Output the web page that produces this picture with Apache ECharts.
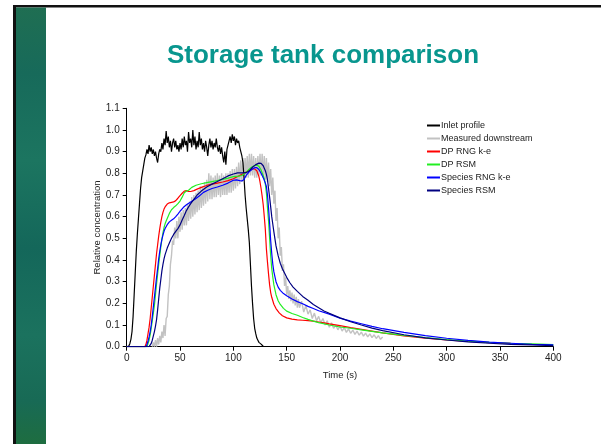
<!DOCTYPE html>
<html>
<head>
<meta charset="utf-8">
<script src="https://cdn.jsdelivr.net/npm/echarts@6/dist/echarts.min.js"></script>
<style>
  html, body { margin: 0; padding: 0; background: #fff; }
  #chart { width: 601px; height: 444px; }
</style>
</head>
<body>
<div id="chart"></div>
<script>
// values: [time (s), relative concentration]
var seriesNames = ['Inlet profile', 'Measured downstream', 'DP RNG k-e', 'DP RSM', 'Species RNG k-e', 'Species RSM']
var xTicks = [0, 400, 50]
var yTicks = [0, 1.1, 0.1]

var inletProfile = [
  [0, 0], [2, 0.003], [3, 0.015], [4, 0.035], [5, 0.07], [6, 0.14], [7, 0.24], [8, 0.34], [9, 0.44], [10, 0.52],
  [11, 0.59], [12, 0.66], [13, 0.73], [14, 0.78], [15, 0.81], [16, 0.84], [17, 0.87], [18, 0.885], [19, 0.91], [20, 0.89],
  [21, 0.93], [22, 0.9], [23, 0.92], [24, 0.89], [25, 0.91], [26, 0.88], [27, 0.9], [28, 0.87], [29, 0.85], [30, 0.89],
  [31, 0.91], [32, 0.9], [33, 0.94], [34, 0.91], [35, 0.96], [36, 0.93], [37, 0.995], [38, 0.94], [39, 0.97], [40, 0.92],
  [41, 0.95], [42, 0.9], [43, 0.94], [44, 0.96], [45, 0.92], [46, 0.95], [47, 0.91], [48, 0.93], [49, 0.9], [50, 0.94],
  [51, 0.91], [52, 0.96], [53, 0.92], [54, 0.97], [55, 0.93], [56, 0.95], [57, 0.9], [58, 0.99], [59, 0.94], [60, 0.96],
  [61, 0.92], [62, 1.0], [63, 0.93], [64, 0.97], [65, 0.91], [66, 0.95], [67, 0.92], [68, 0.99], [69, 0.93], [70, 0.96],
  [71, 0.91], [72, 0.94], [73, 0.9], [74, 0.95], [75, 0.92], [76, 0.88], [77, 0.93], [78, 0.96], [79, 0.92], [80, 0.95],
  [81, 0.91], [82, 0.94], [83, 0.92], [84, 0.96], [85, 0.92], [86, 0.9], [87, 0.93], [88, 0.89], [89, 0.92], [90, 0.88],
  [91, 0.85], [92, 0.9], [93, 0.84], [94, 0.91], [95, 0.93], [96, 0.95], [97, 0.97], [98, 0.94], [99, 0.98], [100, 0.95],
  [101, 0.97], [102, 0.93], [103, 0.96], [104, 0.94], [105, 0.95], [106, 0.92], [107, 0.92], [108, 0.88], [109, 0.85], [110, 0.78],
  [111, 0.7], [112, 0.64], [113, 0.59], [114, 0.54], [115, 0.48], [116, 0.38], [117, 0.28], [118, 0.2], [119, 0.13], [120, 0.085],
  [121, 0.06], [122, 0.04], [123, 0.03], [124, 0.02], [125, 0.02], [126, 0.012], [127, 0.006], [128, 0.002], [129, 0]
]

var measuredDownstream = [
  [24, 0.0], [25, 0.02], [26, 0.0], [27, 0.03], [28, 0.0], [29, 0.04], [30, 0.01], [31, 0.05], [32, 0.02], [33, 0.07],
  [34, 0.04], [35, 0.1], [36, 0.05], [37, 0.13], [38, 0.14], [39, 0.24], [40, 0.28], [41, 0.38], [42, 0.42], [43, 0.49],
  [44, 0.47], [45, 0.55], [46, 0.5], [47, 0.58], [48, 0.5], [49, 0.6], [50, 0.53], [51, 0.62], [52, 0.54], [53, 0.63],
  [54, 0.56], [55, 0.64], [56, 0.56], [57, 0.66], [58, 0.58], [59, 0.67], [60, 0.59], [61, 0.69], [62, 0.6], [63, 0.7],
  [64, 0.61], [65, 0.71], [66, 0.62], [67, 0.72], [68, 0.63], [69, 0.74], [70, 0.64], [71, 0.74], [72, 0.65], [73, 0.76],
  [74, 0.66], [75, 0.77], [76, 0.67], [77, 0.8], [78, 0.68], [79, 0.79], [80, 0.68], [81, 0.78], [82, 0.69], [83, 0.79],
  [84, 0.69], [85, 0.8], [86, 0.7], [87, 0.79], [88, 0.69], [89, 0.8], [90, 0.7], [91, 0.79], [92, 0.7], [93, 0.8],
  [94, 0.7], [95, 0.8], [96, 0.71], [97, 0.81], [98, 0.71], [99, 0.82], [100, 0.72], [101, 0.82], [102, 0.73], [103, 0.83],
  [104, 0.74], [105, 0.85], [106, 0.75], [107, 0.86], [108, 0.76], [109, 0.87], [110, 0.77], [111, 0.87], [112, 0.78], [113, 0.88],
  [114, 0.78], [115, 0.89], [116, 0.79], [117, 0.89], [118, 0.79], [119, 0.88], [120, 0.78], [121, 0.87], [122, 0.78], [123, 0.88],
  [124, 0.79], [125, 0.89], [126, 0.79], [127, 0.89], [128, 0.78], [129, 0.88], [130, 0.77], [131, 0.87], [132, 0.76], [133, 0.85],
  [134, 0.74], [135, 0.82], [136, 0.7], [137, 0.78], [138, 0.66], [139, 0.72], [140, 0.58], [141, 0.64], [142, 0.5], [143, 0.55],
  [144, 0.42], [145, 0.46], [146, 0.35], [147, 0.38], [148, 0.28], [149, 0.32], [150, 0.24], [151, 0.28], [152, 0.22], [153, 0.26],
  [154, 0.21], [155, 0.25], [156, 0.2], [157, 0.24], [158, 0.19], [159, 0.23], [160, 0.18], [161, 0.22], [162, 0.18], [164, 0.21],
  [166, 0.16], [168, 0.19], [170, 0.15], [172, 0.17], [174, 0.13], [176, 0.155], [178, 0.12], [180, 0.14], [182, 0.11], [184, 0.13],
  [186, 0.1], [188, 0.12], [190, 0.09], [192, 0.11], [194, 0.085], [196, 0.1], [198, 0.078], [200, 0.095], [202, 0.072], [204, 0.088],
  [206, 0.066], [208, 0.082], [210, 0.062], [212, 0.077], [214, 0.057], [216, 0.072], [218, 0.053], [220, 0.067], [222, 0.049], [224, 0.063],
  [226, 0.045], [228, 0.059], [230, 0.042], [232, 0.055], [234, 0.038], [236, 0.051], [238, 0.034], [240, 0.045]
]

var dpRngKe = [
  [0, 0], [17, 0], [18, 0.01], [19, 0.03], [20, 0.06], [21, 0.09], [22, 0.13], [23, 0.18], [24, 0.23], [25, 0.28],
  [26, 0.33], [27, 0.38], [28, 0.43], [29, 0.47], [30, 0.51], [31, 0.545], [32, 0.575], [33, 0.6], [34, 0.62], [35, 0.635],
  [36, 0.645], [38, 0.658], [40, 0.664], [42, 0.666], [44, 0.668], [46, 0.674], [48, 0.685], [50, 0.697], [52, 0.708], [54, 0.718],
  [56, 0.72], [58, 0.716], [60, 0.716], [63, 0.72], [66, 0.727], [70, 0.735], [75, 0.744], [80, 0.75], [85, 0.755], [90, 0.76],
  [95, 0.766], [100, 0.775], [104, 0.785], [108, 0.795], [112, 0.806], [115, 0.814], [118, 0.82], [120, 0.82], [122, 0.812], [124, 0.785],
  [125, 0.76], [126, 0.73], [127, 0.695], [128, 0.655], [129, 0.6], [130, 0.54], [131, 0.45], [132, 0.39], [133, 0.335], [134, 0.285],
  [135, 0.25], [136, 0.228], [138, 0.196], [140, 0.176], [143, 0.156], [146, 0.143], [150, 0.133], [155, 0.127], [160, 0.124], [165, 0.122],
  [170, 0.12], [175, 0.118], [180, 0.114], [185, 0.11], [190, 0.105], [200, 0.097], [210, 0.088], [220, 0.08], [230, 0.072], [240, 0.064],
  [260, 0.05], [280, 0.04], [300, 0.031], [320, 0.024], [340, 0.019], [360, 0.015]
]

var dpRsm = [
  [0, 0], [19, 0], [20, 0.015], [21, 0.03], [22, 0.055], [23, 0.085], [24, 0.12], [25, 0.155], [26, 0.19], [27, 0.24],
  [28, 0.29], [29, 0.335], [30, 0.38], [31, 0.42], [32, 0.46], [33, 0.495], [34, 0.525], [35, 0.55], [36, 0.567], [37, 0.58],
  [38, 0.592], [40, 0.615], [42, 0.632], [44, 0.642], [46, 0.65], [48, 0.66], [50, 0.672], [52, 0.69], [54, 0.71], [56, 0.718],
  [58, 0.722], [61, 0.735], [65, 0.745], [70, 0.752], [75, 0.757], [80, 0.762], [85, 0.767], [90, 0.772], [95, 0.778], [100, 0.785],
  [105, 0.787], [108, 0.79], [111, 0.8], [114, 0.815], [117, 0.828], [120, 0.836], [122, 0.838], [124, 0.832], [126, 0.815], [128, 0.79],
  [129, 0.775], [130, 0.75], [131, 0.71], [132, 0.64], [133, 0.58], [134, 0.5], [135, 0.42], [136, 0.36], [137, 0.32], [138, 0.285],
  [140, 0.24], [142, 0.212], [144, 0.195], [147, 0.177], [150, 0.164], [155, 0.153], [160, 0.145], [165, 0.135], [170, 0.126], [175, 0.118],
  [180, 0.111], [190, 0.1], [200, 0.091], [210, 0.085], [220, 0.078], [240, 0.064], [260, 0.052], [280, 0.042], [300, 0.033], [320, 0.026],
  [340, 0.02], [360, 0.016], [380, 0.013], [400, 0.01]
]

var speciesRngKe = [
  [0, 0], [18, 0], [19, 0.01], [20, 0.025], [21, 0.045], [22, 0.07], [23, 0.1], [24, 0.14], [25, 0.185], [26, 0.23],
  [27, 0.275], [28, 0.32], [29, 0.36], [30, 0.405], [31, 0.44], [32, 0.47], [33, 0.495], [34, 0.515], [35, 0.532], [36, 0.545],
  [38, 0.563], [40, 0.576], [42, 0.583], [44, 0.59], [46, 0.6], [48, 0.612], [50, 0.625], [53, 0.642], [56, 0.655], [60, 0.668],
  [64, 0.68], [68, 0.695], [72, 0.712], [76, 0.722], [80, 0.73], [85, 0.737], [90, 0.745], [95, 0.755], [100, 0.768], [103, 0.77],
  [106, 0.766], [108, 0.765], [110, 0.772], [112, 0.79], [115, 0.808], [118, 0.82], [120, 0.826], [122, 0.826], [124, 0.818], [126, 0.8],
  [128, 0.78], [130, 0.755], [131, 0.74], [132, 0.7], [133, 0.64], [134, 0.57], [135, 0.49], [136, 0.43], [137, 0.38], [138, 0.345],
  [140, 0.3], [142, 0.275], [144, 0.26], [147, 0.245], [150, 0.235], [155, 0.22], [160, 0.208], [165, 0.198], [170, 0.186], [175, 0.176],
  [180, 0.166], [190, 0.15], [200, 0.132], [210, 0.118], [220, 0.106], [230, 0.094], [240, 0.083], [260, 0.066], [280, 0.051], [300, 0.039],
  [320, 0.029], [340, 0.021], [360, 0.016], [380, 0.011], [400, 0.008]
]

var speciesRsm = [
  [0, 0], [21, 0], [22, 0.005], [23, 0.015], [24, 0.03], [25, 0.05], [26, 0.07], [27, 0.095], [28, 0.125], [29, 0.17],
  [30, 0.22], [31, 0.27], [32, 0.31], [33, 0.35], [34, 0.38], [35, 0.405], [36, 0.425], [38, 0.455], [40, 0.478], [42, 0.5],
  [44, 0.518], [46, 0.532], [48, 0.545], [50, 0.562], [52, 0.585], [54, 0.605], [56, 0.628], [58, 0.645], [60, 0.66], [63, 0.68],
  [66, 0.7], [70, 0.718], [75, 0.737], [80, 0.75], [85, 0.762], [90, 0.775], [95, 0.788], [100, 0.797], [104, 0.802], [108, 0.802],
  [112, 0.803], [115, 0.812], [118, 0.828], [121, 0.84], [124, 0.847], [126, 0.846], [128, 0.835], [130, 0.812], [131, 0.795], [132, 0.77],
  [133, 0.73], [134, 0.69], [135, 0.645], [136, 0.6], [137, 0.565], [138, 0.53], [140, 0.465], [142, 0.42], [144, 0.385], [146, 0.36],
  [148, 0.34], [150, 0.32], [153, 0.295], [156, 0.275], [160, 0.255], [165, 0.232], [170, 0.214], [175, 0.195], [180, 0.18], [185, 0.165],
  [190, 0.154], [200, 0.133], [210, 0.115], [220, 0.1], [230, 0.086], [240, 0.074], [260, 0.055], [280, 0.041], [300, 0.031], [320, 0.022],
  [340, 0.016], [360, 0.011], [380, 0.008], [400, 0.005]
]

var chart = echarts.init(document.getElementById('chart'), null, { renderer: 'canvas' })
var font = "'Liberation Sans', Arial, sans-serif"
var colors = ['#000000', '#c2c2c2', '#ff0000', '#22ee22', '#0000ff', '#000080']
var allData = [inletProfile, measuredDownstream, dpRngKe, dpRsm, speciesRngKe, speciesRsm]

var series = seriesNames.map(function (name, i) {
  return {
    name: name,
    type: 'line',
    data: allData[i],
    showSymbol: false,
    symbol: 'none',
    z: i === 1 ? 1 : 3,
    itemStyle: { color: colors[i] },
    lineStyle: { color: colors[i], width: i === 1 ? 1.4 : 1.2 }
  }
})

var option = {
  animation: false,
  backgroundColor: '#ffffff',
  title: {
    text: 'Storage tank comparison',
    left: 318,
    textAlign: 'center',
    top: 38,
    textStyle: { color: '#08968e', fontSize: 26, fontWeight: 'bold', fontFamily: font }
  },
  // slide frame: black border + green strip on the left
  graphic: [
    { type: 'rect', shape: { x: 13, y: 5, width: 588, height: 2.5 }, style: { fill: '#111' } },
    { type: 'rect', shape: { x: 13, y: 5, width: 3, height: 439 }, style: { fill: '#111' } },
    {
      type: 'rect',
      shape: { x: 16, y: 7.5, width: 30, height: 437 },
      style: {
        fill: new echarts.graphic.LinearGradient(0, 0, 0, 1, [
          { offset: 0, color: '#1f6e52' },
          { offset: 0.15, color: '#176a5a' },
          { offset: 0.35, color: '#1c7560' },
          { offset: 0.55, color: '#14675a' },
          { offset: 0.75, color: '#1b725e' },
          { offset: 0.9, color: '#186a55' },
          { offset: 1, color: '#1e6d40' }
        ])
      }
    }
  ],
  legend: {
    orient: 'vertical',
    left: 427,
    top: 120,
    padding: 0,
    icon: 'rect',
    itemWidth: 13,
    itemHeight: 2,
    itemGap: 2,
    data: seriesNames,
    textStyle: { fontSize: 9, fontFamily: font, color: '#222', lineHeight: 11, padding: [0, 0, 0, -4] }
  },
  grid: { left: 126.7, right: 47.7, top: 108.3, bottom: 97.3 },
  xAxis: {
    type: 'value',
    min: xTicks[0],
    max: xTicks[1],
    interval: xTicks[2],
    name: 'Time (s)',
    nameLocation: 'middle',
    nameGap: 24,
    nameTextStyle: { fontSize: 9.5, fontFamily: font, color: '#222' },
    axisLine: { lineStyle: { color: '#000', width: 1 } },
    axisTick: { show: true, length: 4, lineStyle: { color: '#000' } },
    axisLabel: { fontSize: 10, fontFamily: font, color: '#222', margin: 7 },
    splitLine: { show: false }
  },
  yAxis: {
    type: 'value',
    min: yTicks[0],
    max: yTicks[1],
    interval: yTicks[2],
    name: 'Relative concentration',
    nameLocation: 'middle',
    nameGap: 24,
    nameMoveOverlap: false,
    nameTextStyle: { fontSize: 9.5, fontFamily: font, color: '#222' },
    axisLine: { show: true, lineStyle: { color: '#000', width: 1 } },
    axisTick: { show: true, length: 4, lineStyle: { color: '#000' } },
    axisLabel: {
      fontSize: 10,
      fontFamily: font,
      color: '#222',
      margin: 7,
      formatter: function (v) { return v.toFixed(1) }
    },
    splitLine: { show: false }
  },
  series: series
}

chart.setOption(option)
</script>
</body>
</html>
